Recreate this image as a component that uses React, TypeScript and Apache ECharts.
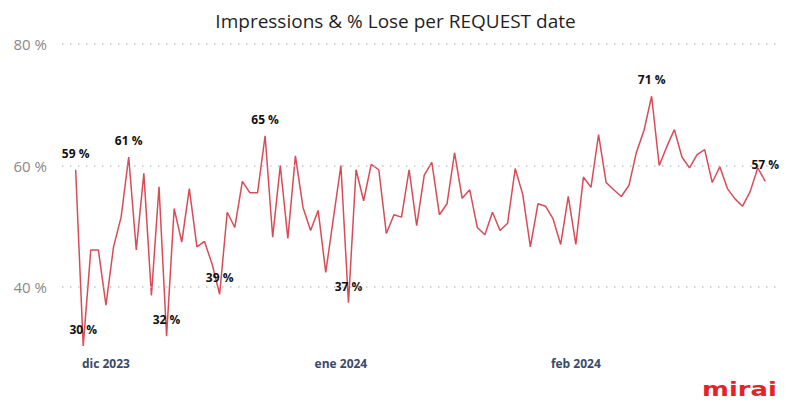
import React, { useEffect, useRef } from "react";
import * as echarts from "echarts";

// ---- data ----
const titleText = "Impressions & % Lose per REQUEST date";
const firstDay = { year: 2023, month: 10, day: 27 }; // 27 Nov 2023, one point per day
const lossPct = [
  59.3, 30.3, 46.1, 46.1, 37.0, 46.6, 51.5, 61.4, 46.1, 58.7,
  38.6, 56.5, 31.9, 52.9, 47.4, 56.2, 46.6, 47.5, 43.8, 38.8,
  52.3, 49.8, 57.4, 55.5, 55.5, 64.9, 48.2, 60.0, 48.0, 61.6,
  53.1, 49.3, 52.6, 42.4, 51.2, 60.0, 37.4, 59.3, 54.2, 60.2,
  59.3, 48.8, 51.9, 51.5, 59.3, 50.1, 58.4, 60.5, 51.9, 53.7,
  62.1, 54.6, 56.0, 49.8, 48.6, 52.3, 49.3, 50.5, 59.5, 55.2,
  46.6, 53.7, 53.3, 51.2, 47.0, 54.9, 47.0, 58.1, 56.4, 65.1,
  57.2, 56.0, 54.9, 56.7, 62.2, 65.8, 71.4, 60.0, 63.1, 65.9,
  61.4, 59.6, 61.8, 62.6, 57.2, 59.8, 56.2, 54.5, 53.3, 55.7,
  59.6, 57.4,
];
const labeledIdx = [0, 1, 7, 12, 19, 25, 36, 76, 91];
const monthTickDates = [
  [2023, 11, 1],
  [2024, 0, 1],
  [2024, 1, 1],
];
const monthNames = ["ene", "feb", "mar", "abr", "may", "jun", "jul", "ago", "sep", "oct", "nov", "dic"];
const yTicks = [40, 60, 80];

const DAY = 86400000;

export default function App() {
  const ref = useRef<HTMLDivElement>(null);

  useEffect(() => {
    document.body.style.margin = "0";
    if (!ref.current) return;
    const chart = echarts.init(ref.current, undefined, { renderer: "svg" });

    const start = new Date(firstDay.year, firstDay.month, firstDay.day);
    const dayDate = (i: number) =>
      new Date(firstDay.year, firstDay.month, firstDay.day + i);
    const monthTickIdx = monthTickDates.map(([y, m, d]) =>
      Math.round((new Date(y, m, d).getTime() - start.getTime()) / DAY)
    );

    const data = lossPct.map((v, i) => {
      const item: any = { value: [i, v] };
      if (labeledIdx.includes(i)) {
        item.label = { show: true };
      }
      return item;
    });

    chart.setOption({
      animation: false,
      title: {
        text: titleText,
        left: "center",
        top: 6,
        textStyle: {
          fontFamily: "'Open Sans', sans-serif",
          fontSize: 19,
          fontWeight: 500,
          color: "#1f1f1f",
        },
      },
      grid: {
        left: 62,
        right: 11,
        top: 44,
        bottom: 408 - (44 + 51 * 6.075),
      },
      xAxis: {
        type: "value",
        min: -1.8,
        max: lossPct.length - 1 + 1.94,
        axisLine: { show: false },
        axisTick: { show: false },
        splitLine: { show: false },
        axisLabel: {
          customValues: monthTickIdx,
          margin: 4,
          color: "#3a4a68",
          fontWeight: "bold",
          fontSize: 12,
          fontFamily: "'Open Sans', sans-serif",
          formatter: (val: number) => {
            const d = dayDate(Math.round(val));
            return monthNames[d.getMonth()] + " " + d.getFullYear();
          },
        },
      },
      yAxis: {
        type: "value",
        min: 29,
        max: 80,
        axisLine: { show: false },
        axisTick: { show: false },
        splitLine: { show: false },
        axisLabel: {
          customValues: yTicks,
          margin: 15,
          color: "#8a8a8a",
          fontSize: 15,
          fontFamily: "'Open Sans', sans-serif",
          formatter: (v: number) => v + " %",
        },
      },
      series: [
        {
          type: "line",
          data,
          symbol: "circle",
          symbolSize: 1,
          showSymbol: true,
          itemStyle: { color: "rgba(0,0,0,0)" },
          lineStyle: { color: "#D84B57", width: 1.5 },
          label: {
            show: false,
            position: "top",
            distance: 10,
            color: "#111111",
            fontWeight: "bold",
            fontSize: 12,
            fontFamily: "'Open Sans', sans-serif",
            formatter: (p: any) => Math.round(p.value[1]) + " %",
          },
          emphasis: { disabled: true },
          markLine: {
            silent: true,
            symbol: ["none", "none"],
            label: { show: false },
            lineStyle: { color: "#c4c4c4", type: [1.5, 6.5], width: 1.5 },
            emphasis: { disabled: true },
            data: yTicks.map((v) => ({ yAxis: v })),
          },
        },
      ],
      graphic: [
        {
          type: "text",
          x: 702,
          y: 380,
          scaleX: 1.36,
          style: {
            text: "mirai",
            fill: "#e8202a",
            font: "bold 19px 'DejaVu Sans', sans-serif",
            textVerticalAlign: "top",
          },
        },
      ],
    });

    return () => chart.dispose();
  }, []);

  return <div ref={ref} style={{ width: 791, height: 408 }} />;
}
